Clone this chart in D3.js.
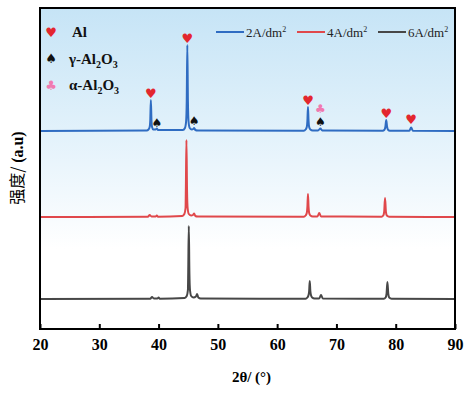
<!DOCTYPE html>
<html>
<head>
<meta charset="utf-8">
<script src="https://cdn.jsdelivr.net/npm/d3@7"></script>
<style>
  body { margin: 0; background: #fff; }
  text { font-family: "Liberation Serif", "Times New Roman", serif; }
</style>
</head>
<body>
<div id="xrd"></div>
<script>
// XRD patterns, [2theta, intensity above own baseline] (a.u.)
const series2A = [[20,0],[38.0,0.5],[38.3,1.5],[38.5,4],[38.6,11],[38.7,31],[38.8,11],[38.9,4],[39.1,1.5],
  [39.5,1.5],[39.7,2.5],[39.9,1],[44.1,1],[44.45,3],[44.65,10],[44.75,30],[44.85,86],[44.95,30],[45.05,10],
  [45.25,3],[45.6,1.5],[45.85,2],[46.0,3],[46.2,1],[46.6,0.5],[64.5,0.3],[64.8,1.5],[65.0,4],[65.1,10],
  [65.2,24],[65.3,10],[65.4,4],[65.6,1.5],[66.0,0.5],[66.9,0.5],[67.3,2.5],[67.6,0.5],[77.8,0.3],[78.1,1.2],
  [78.25,4],[78.4,11],[78.55,4],[78.7,1.2],[79.0,0.3],[82.3,0.3],[82.6,3.5],[82.9,0.3],[90,0]]
const series4A = [[20,0],[38.2,0.3],[38.5,2],[38.8,0.5],[39.5,0.5],[39.7,1.5],[39.9,0.3],[44.0,1],[44.35,3],
  [44.55,9],[44.6,27],[44.7,77],[44.8,27],[44.9,9],[45.1,3],[45.5,1.5],[45.8,2],[46.0,3.5],[46.2,1],[46.6,0.5],
  [64.5,0.3],[64.8,1.5],[65.0,4],[65.1,10],[65.2,23],[65.3,10],[65.4,4],[65.6,1.5],[66.0,0.5],[66.8,0.5],
  [67.1,4],[67.4,0.5],[77.6,0.3],[77.9,1.5],[78.05,5],[78.2,19],[78.35,5],[78.5,1.5],[78.9,0.3],[90,0]]
const series6A = [[20,0],[38.6,0.3],[38.9,2],[39.2,0.5],[39.8,0.5],[40.0,1.5],[40.2,0.3],[44.4,1],[44.75,3],
  [44.95,9],[45.0,26],[45.1,73],[45.2,26],[45.3,9],[45.5,3],[45.9,1.5],[46.3,2.5],[46.5,5],[46.7,1.5],[47.1,0.5],
  [64.8,0.3],[65.1,1.5],[65.3,4],[65.4,8],[65.5,18],[65.6,8],[65.7,4],[65.9,1.5],[66.3,0.5],[67.1,0.5],
  [67.4,4],[67.7,0.5],[78.0,0.3],[78.3,1.5],[78.45,5],[78.6,17],[78.75,5],[78.9,1.5],[79.3,0.3],[90,0]]

const seriesNames = ["2A/dm", "4A/dm", "6A/dm"]
const seriesColors = ["#2f6cc2", "#e0484b", "#474747"]
const seriesOffsets = [198, 112, 30]

// phase markers: [symbol, 2theta, level]
const markerAl = [[38.7, 236], [44.85, 291], [65.2, 229], [78.4, 216], [82.6, 210]]
const markerGamma = [[39.7, 206], [46.0, 208], [67.3, 207]]
const markerAlpha = [[67.3, 220]]

const xTicks = [20, 30, 40, 50, 60, 70, 80, 90]

const W = 472, H = 393
const margin = {left: 40, top: 8, right: 17, bottom: 64}
const width = W - margin.left - margin.right,
      height = H - margin.top - margin.bottom

const svg = d3.select("#xrd").append("svg")
  .attr("width", W).attr("height", H)

// light blue fade behind the plot
const grad = svg.append("defs").append("linearGradient")
  .attr("id", "bg").attr("x1", 0).attr("y1", 0).attr("x2", 0).attr("y2", 1)
grad.append("stop").attr("offset", "0%").attr("stop-color", "#c6e4f6")
grad.append("stop").attr("offset", "40%").attr("stop-color", "#e3f2fb")
grad.append("stop").attr("offset", "75%").attr("stop-color", "#ffffff")

const g = svg.append("g").attr("transform", `translate(${margin.left},${margin.top})`)

g.append("rect").attr("width", width).attr("height", height).attr("fill", "url(#bg)")

const x = d3.scaleLinear().domain([20, 90]).range([0, width])
const y = d3.scaleLinear().domain([0, 321]).range([height, 0])

const line = d3.line().curve(d3.curveMonotoneX)
;[series2A, series4A, series6A].forEach((s, i) => {
  g.append("path")
    .datum(s)
    .attr("fill", "none")
    .attr("stroke", seriesColors[i])
    .attr("stroke-width", 2)
    .attr("stroke-linejoin", "round")
    .attr("d", line.x(d => x(d[0])).y(d => y(d[1] + seriesOffsets[i])))
})

// markers above the peaks
function drawMarkers(data, sym, color, size) {
  g.selectAll(null).data(data).join("text")
    .attr("x", d => x(d[0])).attr("y", d => y(d[1]))
    .attr("text-anchor", "middle").attr("dominant-baseline", "central")
    .style("font-family", "DejaVu Sans").style("font-size", size + "px")
    .attr("fill", color).text(sym)
}
drawMarkers(markerAl, "♥", "#e3262e", 13)
drawMarkers(markerGamma, "♠", "#111", 12)
drawMarkers(markerAlpha, "♣", "#f07ab0", 12)

// phase legend
const phases = [["♥", "#e3262e", "Al"], ["♠", "#111", "γ-Al"], ["♣", "#f07ab0", "α-Al"]]
phases.forEach((p, i) => {
  const yy = 24 + i * 26.5
  g.append("text").attr("x", 11).attr("y", yy).attr("text-anchor", "middle")
    .attr("dominant-baseline", "central").style("font-family", "DejaVu Sans")
    .style("font-size", "13px").attr("fill", p[1]).text(p[0])
  const t = g.append("text").attr("x", i == 0 ? 32 : 29).attr("y", yy + 5)
    .style("font-size", "15px").style("font-weight", "bold").attr("fill", "#111")
  t.append("tspan").text(p[2])
  if (i > 0) {
    t.append("tspan").attr("dy", 4).style("font-size", "10px").text("2")
    t.append("tspan").attr("dy", -4).text("O")
    t.append("tspan").attr("dy", 4).style("font-size", "10px").text("3")
  }
})

// series legend
const legX = [176, 257, 338]
seriesNames.forEach((n, i) => {
  g.append("line").attr("x1", legX[i]).attr("x2", legX[i] + 28)
    .attr("y1", 24).attr("y2", 24).attr("stroke", seriesColors[i]).attr("stroke-width", 2)
  const t = g.append("text").attr("x", legX[i] + 30).attr("y", 28.5)
    .style("font-size", "13px").attr("fill", "#222")
  t.append("tspan").text(n)
  t.append("tspan").attr("dy", -5).style("font-size", "8px").text("2")
})

// frame
g.append("rect").attr("width", width).attr("height", height)
  .attr("fill", "none").attr("stroke", "#000").attr("stroke-width", 2)

const xAxis = g.append("g").attr("transform", `translate(0,${height})`)
  .call(d3.axisBottom(x).tickValues(xTicks).tickSizeInner(-5).tickSizeOuter(0).tickPadding(10))
xAxis.select(".domain").remove()
xAxis.selectAll("line").attr("stroke", "#000").attr("stroke-width", 2)
xAxis.selectAll("text").style("font-family", "Liberation Serif").style("font-size", "16px")
  .style("font-weight", "bold").attr("fill", "#000")

svg.append("text").attr("x", margin.left + width / 2 + 4).attr("y", 382)
  .attr("text-anchor", "middle").style("font-size", "15px").style("font-weight", "bold")
  .text("2θ/ (°)")

const yl = svg.append("text").attr("transform", "translate(23,168) rotate(-90)")
  .attr("text-anchor", "middle").style("font-size", "16px")
yl.append("tspan").style("font-family", "Noto Sans CJK SC").text("强度/ ")
yl.append("tspan").style("font-weight", "bold").text("(a.u)")
</script>
</body>
</html>
